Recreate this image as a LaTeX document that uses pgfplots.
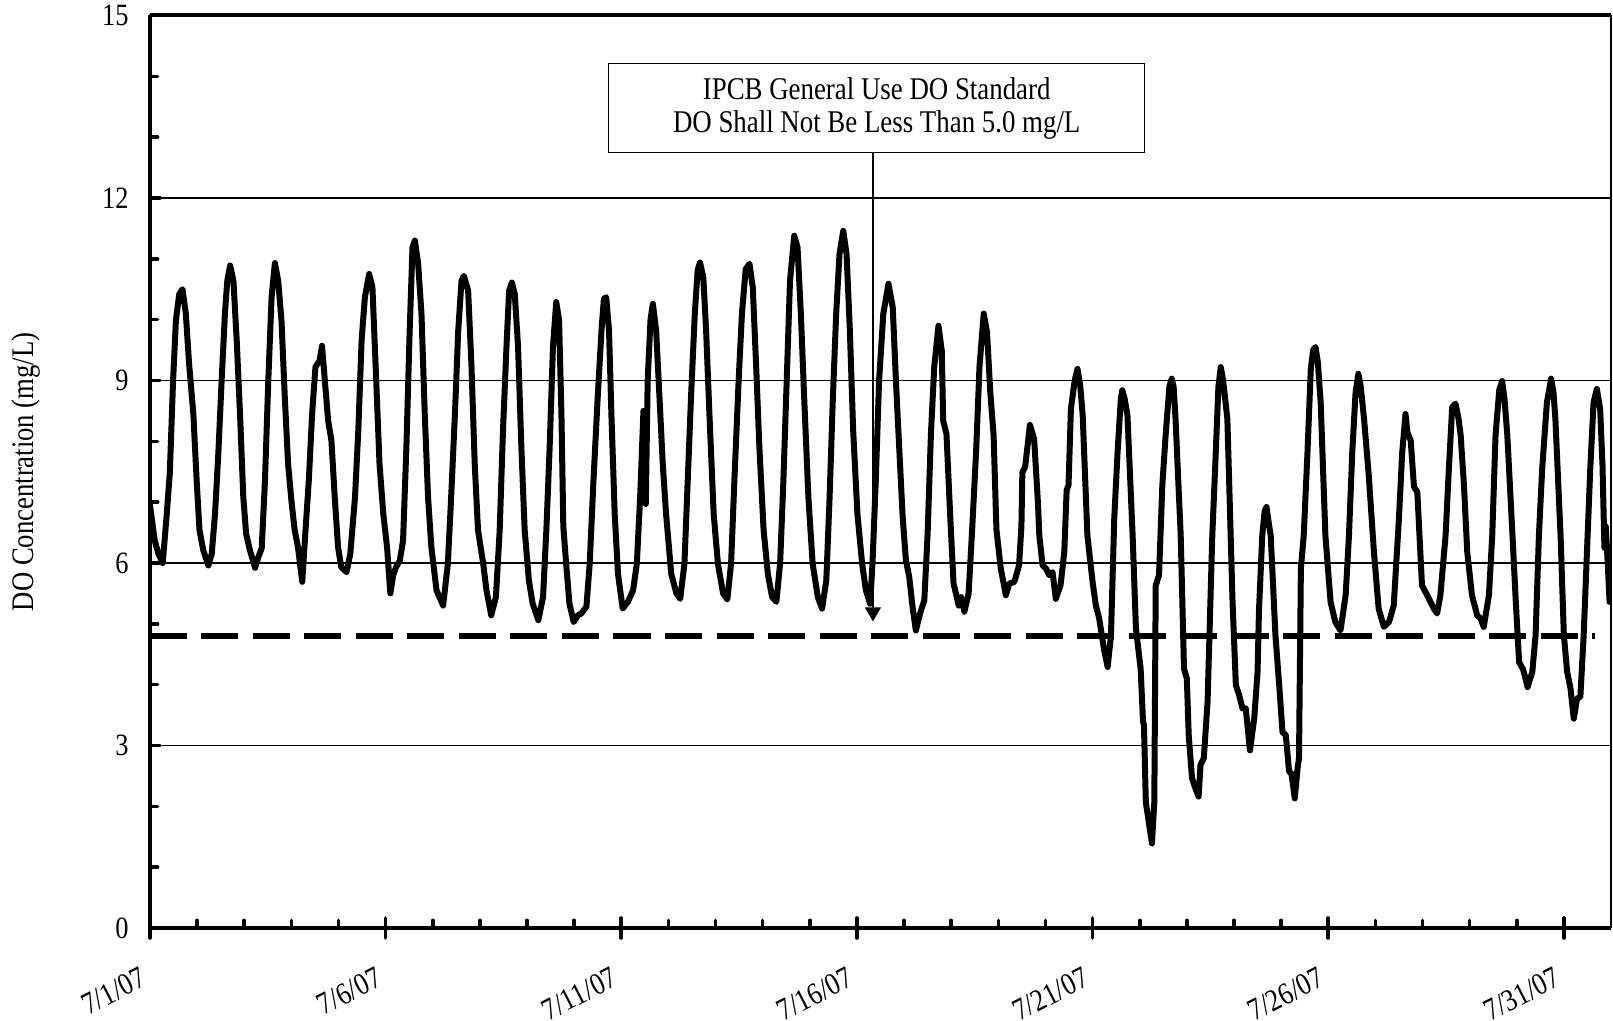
\documentclass[border=0pt]{standalone}
\usepackage{fontspec}
\setmainfont{Liberation Serif}[FakeStretch=0.85]
\usepackage{pgfplots}
\pgfplotsset{compat=1.18}
\usetikzlibrary{arrows.meta}
\newcommand\tickfont{\fontsize{15.5}{16}\selectfont}
\newcommand\boxfont{\fontsize{15.8}{16.5}\selectfont}
\newcommand\labelfont{\fontsize{15.7}{17}\selectfont}
\begin{document}
\begin{tikzpicture}
\begin{axis}[
  at={(0,0)}, anchor=south west,
  scale only axis, width=730.5pt, height=456.25pt,
  xmin=0, xmax=31, ymin=0, ymax=15,
  clip mode=individual,
  axis lines=left, axis line style={-, line width=2.4pt},
  xtick={0,5,...,30},
  xticklabels={7/1/07,7/6/07,7/11/07,7/16/07,7/21/07,7/26/07,7/31/07},
  minor x tick num=4,
  ytick={0,3,...,15}, minor y tick num=2,
  tick align=inside, major tick length=5pt, minor tick length=3.8pt,
  tick style={black, line width=1.8pt, line cap=round},
  ymajorgrids,
  major grid style={black, line width=0.8pt, line cap=butt},
  yticklabel style={font=\tickfont, /pgf/number format/assume math mode=true, anchor=east, inner sep=0pt, xshift=-10.5pt},
  xticklabel style={font=\tickfont, inner sep=0pt, anchor=north east, xshift=-5.5pt, yshift=-19pt, rotate=27},
  ylabel={DO Concentration (mg/L)},
  every axis y label/.style={at={(axis description cs:-0.0851,0.5)}, rotate=90, anchor=center, font=\labelfont},
]
\addplot[black, line width=3pt, line join=round, line cap=round] coordinates {
(0.00,6.95) (0.10,6.37) (0.18,6.15) (0.27,6.00) (0.35,6.75) (0.42,7.47) (0.49,9.00) (0.55,9.99) (0.62,10.42) (0.69,10.50) (0.76,10.10) (0.83,9.27) (0.92,8.45) (0.99,7.36) (1.05,6.54) (1.13,6.21) (1.24,5.96)
(1.31,6.15) (1.38,6.81) (1.45,7.80) (1.52,9.00) (1.59,10.10) (1.64,10.64) (1.70,10.89) (1.77,10.64) (1.84,9.66) (1.91,8.45) (1.98,7.08) (2.04,6.48) (2.12,6.21) (2.23,5.92) (2.30,6.10) (2.37,6.24)
(2.44,7.36) (2.51,9.00) (2.58,10.37) (2.65,10.93) (2.72,10.64) (2.79,9.99) (2.86,8.73) (2.93,7.63) (3.00,7.03) (3.07,6.54) (3.14,6.26) (3.23,5.69)
(3.30,6.54) (3.37,7.36) (3.44,8.45) (3.51,9.22) (3.60,9.33) (3.65,9.57) (3.71,9.00) (3.78,8.34) (3.85,8.01) (3.92,7.08) (3.99,6.26) (4.06,5.93) (4.17,5.85)
(4.25,6.15) (4.35,7.08) (4.42,8.18) (4.49,9.66) (4.56,10.37) (4.65,10.75) (4.72,10.53) (4.80,9.00) (4.87,7.63) (4.95,6.81) (5.03,6.26) (5.10,5.50) (5.16,5.80) (5.22,5.93) (5.30,6.04)
(5.37,6.37) (5.44,7.90) (5.51,9.82) (5.57,11.19) (5.62,11.30) (5.69,10.92) (5.76,10.10) (5.83,8.45) (5.90,7.08) (5.97,6.26) (6.08,5.55) (6.22,5.30)
(6.32,5.99) (6.39,7.08) (6.47,8.45) (6.54,9.82) (6.61,10.64) (6.66,10.72) (6.75,10.48) (6.82,9.27) (6.89,7.63) (6.96,6.54) (7.07,5.99) (7.14,5.55) (7.24,5.14)
(7.34,5.44) (7.42,6.54) (7.49,8.18) (7.57,9.66) (7.62,10.48) (7.68,10.61) (7.74,10.42) (7.81,9.55) (7.88,7.90) (7.95,6.54) (8.04,5.71) (8.12,5.33) (8.24,5.06)
(8.34,5.44) (8.41,6.54) (8.48,7.90) (8.55,9.55) (8.62,10.29) (8.68,9.99) (8.73,8.45) (8.77,6.60) (8.83,5.99) (8.90,5.33) (8.99,5.03) (9.08,5.14) (9.15,5.17) (9.26,5.28)
(9.33,5.99) (9.41,7.36) (9.50,8.73) (9.58,9.82) (9.63,10.34) (9.68,10.37) (9.74,9.82) (9.79,8.45) (9.86,6.81) (9.93,5.82) (10.03,5.25) (10.14,5.36) (10.25,5.55) (10.33,5.99)
(10.40,7.08) (10.47,8.50) (10.52,6.97) (10.56,9.00) (10.62,10.00) (10.67,10.26) (10.74,9.82) (10.81,8.73) (10.88,7.63) (10.95,6.81) (11.06,5.82) (11.17,5.50) (11.25,5.41)
(11.34,5.99) (11.41,7.36) (11.48,8.73) (11.56,10.10) (11.62,10.81) (11.67,10.94) (11.74,10.70) (11.80,9.82) (11.87,8.45) (11.96,6.81) (12.05,5.99) (12.16,5.50) (12.25,5.40)
(12.33,5.99) (12.40,7.36) (12.49,9.00) (12.56,10.10) (12.64,10.83) (12.72,10.92) (12.79,10.53) (12.86,9.27) (12.93,7.90) (13.02,6.54) (13.11,5.82) (13.20,5.44) (13.29,5.36)
(13.37,5.99) (13.44,7.36) (13.51,9.00) (13.58,10.64) (13.67,11.38) (13.74,11.19) (13.81,10.10) (13.88,8.73) (13.97,7.08) (14.06,5.99) (14.17,5.44) (14.26,5.25)
(14.35,5.71) (14.42,7.08) (14.49,8.73) (14.56,10.10) (14.63,11.08) (14.71,11.46) (14.78,11.08) (14.85,9.82) (14.92,8.18) (15.01,6.81) (15.11,5.99) (15.19,5.55) (15.28,5.33)
(15.33,5.99) (15.40,7.36) (15.47,9.00) (15.56,10.10) (15.67,10.59) (15.76,10.20) (15.83,8.95) (15.90,7.85) (15.97,6.76) (16.04,6.04) (16.11,5.77) (16.18,5.28) (16.25,4.89)
(16.34,5.17) (16.43,5.39) (16.50,6.48) (16.57,8.12) (16.64,9.22) (16.73,9.90) (16.80,9.49) (16.83,8.34) (16.90,8.12) (16.98,6.76) (17.05,5.66) (17.10,5.50) (17.16,5.30) (17.21,5.44) (17.28,5.20)
(17.37,5.50) (17.44,6.48) (17.53,7.85) (17.60,9.22) (17.69,10.10) (17.76,9.80) (17.83,8.80) (17.90,8.10) (17.96,6.55) (18.05,5.92) (18.16,5.47) (18.23,5.66) (18.34,5.69) (18.44,5.96)
(18.49,6.60) (18.51,7.49) (18.57,7.58) (18.67,8.27) (18.76,8.04) (18.84,7.00) (18.87,6.45) (18.94,5.96) (19.01,5.91) (19.08,5.80) (19.15,5.85) (19.22,5.41)
(19.32,5.63) (19.40,6.18) (19.45,7.20) (19.49,7.28) (19.54,8.53) (19.62,9.00) (19.68,9.19) (19.74,8.90) (19.79,8.43) (19.89,6.45) (20.00,5.69) (20.07,5.30) (20.14,5.09) (20.24,4.59) (20.32,4.29)
(20.39,4.81) (20.46,6.73) (20.53,7.82) (20.60,8.70) (20.63,8.84) (20.68,8.70) (20.74,8.43) (20.85,6.45) (20.92,4.92) (21.02,4.26) (21.07,3.40) (21.09,3.33) (21.13,2.07) (21.20,1.70) (21.26,1.39)
(21.31,2.07) (21.34,5.63) (21.41,5.80) (21.48,7.28) (21.55,8.10) (21.63,8.90) (21.68,9.03) (21.72,8.90) (21.76,8.37) (21.87,6.45) (21.94,4.26) (22.00,4.10) (22.04,3.17) (22.11,2.46) (22.18,2.30) (22.25,2.16)
(22.29,2.68) (22.36,2.79) (22.44,3.72) (22.54,6.45) (22.60,7.55) (22.67,8.90) (22.72,9.22) (22.77,9.00) (22.86,8.37) (22.97,5.36) (23.04,3.99) (23.11,3.83) (23.18,3.61) (23.25,3.61) (23.34,2.92)
(23.43,3.45) (23.50,4.20) (23.53,5.20) (23.60,6.45) (23.65,6.85) (23.69,6.92) (23.73,6.70) (23.78,6.45) (23.88,4.81) (23.96,3.99) (24.03,3.22) (24.10,3.17) (24.17,2.57) (24.22,2.54) (24.29,2.13)
(24.35,2.63) (24.38,2.79) (24.42,5.91) (24.48,6.45) (24.56,7.82) (24.63,9.19) (24.68,9.50) (24.73,9.55) (24.78,9.30) (24.84,8.64) (24.94,6.45) (25.05,5.36) (25.15,5.03) (25.26,4.89)
(25.37,5.47) (25.44,6.45) (25.51,7.82) (25.58,8.80) (25.64,9.11) (25.69,8.90) (25.76,8.37) (25.86,7.44) (25.97,6.18) (26.07,5.25) (26.18,4.95)
(26.29,5.03) (26.39,5.30) (26.50,6.73) (26.57,7.82) (26.64,8.45) (26.68,8.15) (26.75,8.01) (26.82,7.25) (26.89,7.17) (26.99,5.63) (27.10,5.47) (27.17,5.36) (27.24,5.25) (27.31,5.17)
(27.38,5.47) (27.49,6.45) (27.56,7.55) (27.63,8.56) (27.70,8.62) (27.76,8.40) (27.81,8.10) (27.88,7.28) (27.95,6.18) (28.05,5.47) (28.16,5.14) (28.23,5.09) (28.30,4.95)
(28.41,5.47) (28.48,6.45) (28.55,8.10) (28.63,8.85) (28.69,8.99) (28.74,8.70) (28.80,8.10) (28.91,6.45) (28.98,5.36) (29.05,4.37) (29.13,4.26) (29.17,4.15) (29.23,3.96)
(29.33,4.21) (29.40,4.81) (29.47,6.45) (29.54,7.55) (29.64,8.64) (29.73,9.03) (29.78,8.80) (29.82,8.37) (29.93,6.45) (30.00,4.81) (30.07,4.21) (30.14,3.94) (30.21,3.44)
(30.28,3.77) (30.35,3.80) (30.42,4.81) (30.49,6.18) (30.56,7.55) (30.63,8.64) (30.70,8.86) (30.77,8.53) (30.82,7.60) (30.86,6.25) (30.89,6.60) (30.93,6.00) (30.97,5.36)
};
\addplot[black, line width=2.6pt, dash pattern=on 18.5pt off 7.25pt] coordinates {(0,4.8) (30.67,4.8)};
\draw[line width=2pt] (rel axis cs:0,1) -- (rel axis cs:1,1);
\draw[line width=0.9pt] (rel axis cs:1,0) -- (rel axis cs:1,1);
\draw[line width=2.4pt] (rel axis cs:0,1) -- (rel axis cs:0,0) -- (rel axis cs:1,0);
\pgfplotsinvokeforeach{0,5,10,15,20,25,30}{\draw[line width=1.8pt, line cap=round] (axis cs:#1,0) -- ++(0pt,-5pt);}
\draw[line width=0.7pt, -{Triangle[width=8pt,length=7pt]}] (axis cs:15.34,12.75) -- (axis cs:15.34,5.04);
\node[draw, line width=0.75pt, fill=white, minimum width=268pt, minimum height=44.5pt, inner sep=0pt, align=center, font=\boxfont] at (axis cs:15.42,13.48) {IPCB General Use DO Standard\\DO Shall Not Be Less Than 5.0 mg/L};
\end{axis}
\pgfresetboundingbox
\path[use as bounding box] (-75pt,-46.5pt) rectangle (731.5pt,464pt);
\end{tikzpicture}
\end{document}
